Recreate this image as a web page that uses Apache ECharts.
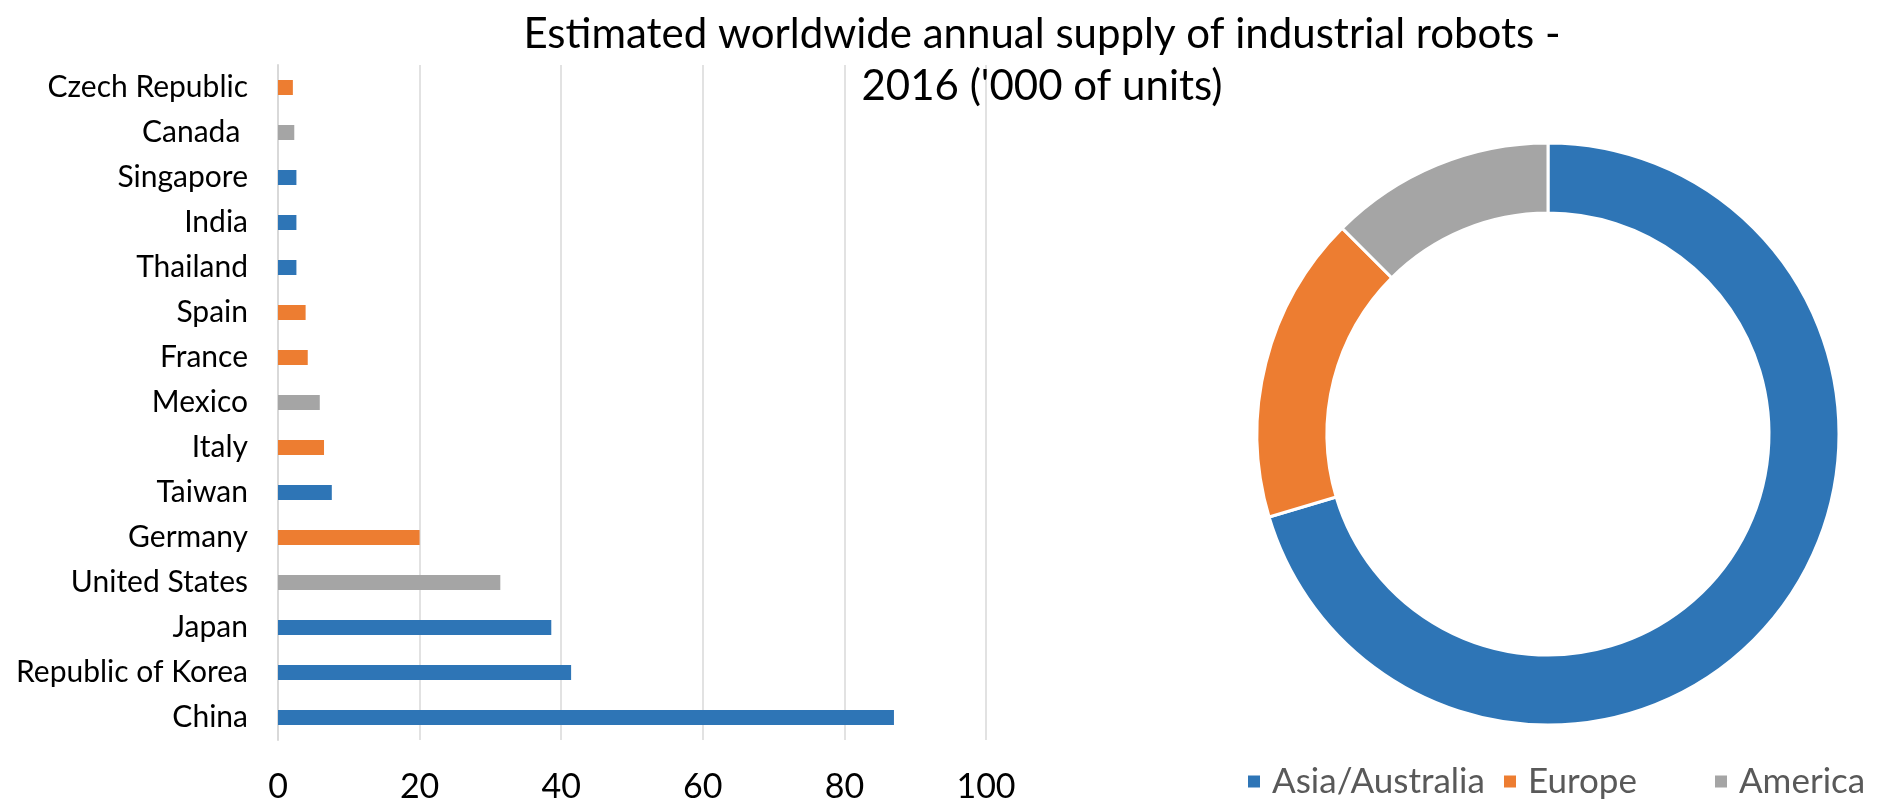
<!DOCTYPE html>
<html>
<head>
<meta charset="utf-8">
<script src="https://cdn.jsdelivr.net/npm/echarts@6/dist/echarts.min.js"></script>
<style>
html,body{margin:0;padding:0;background:#fff;}
#chart{width:1879px;height:805px;}
</style>
</head>
<body>
<div id="chart"></div>
<script>
// Categories (bottom to top)
const categories = ['China', 'Republic of Korea', 'Japan', 'United States', 'Germany', 'Taiwan', 'Italy', 'Mexico', 'France', 'Spain', 'Thailand', 'India', 'Singapore', 'Canada ', 'Czech Republic'];
const values = [87.0, 41.4, 38.6, 31.4, 20.0, 7.6, 6.5, 5.9, 4.2, 3.9, 2.6, 2.6, 2.6, 2.3, 2.1];
const regionOf = ['Asia/Australia', 'Asia/Australia', 'Asia/Australia', 'America', 'Europe', 'Asia/Australia', 'Europe', 'America', 'Europe', 'Europe', 'Asia/Australia', 'Asia/Australia', 'Asia/Australia', 'America', 'Europe'];
const regions = ['Asia/Australia', 'Europe', 'America'];
const regionShare = [70.4, 17.1, 12.5];
const xTicks = [0, 20, 40, 60, 80, 100];
const titleText = "Estimated worldwide annual supply of industrial robots -\n2016 ('000 of units)";

const regionColor = {'Asia/Australia': '#2E75B6', 'Europe': '#ED7D31', 'America': '#A5A5A5'};
const FONT = 'Lato';
const legendLefts = [1246, 1502, 1713];

const chart = echarts.init(document.getElementById('chart'));
chart.setOption({
  backgroundColor: '#ffffff',
  animation: false,
  title: {
    text: titleText,
    left: 1042,
    top: 8,
    textAlign: 'center',
    padding: 0,
    textStyle: {fontFamily: FONT, fontSize: 42, fontWeight: 'normal', color: '#000000', lineHeight: 52}
  },
  legend: regions.map((r, i) => ({
    left: legendLefts[i],
    top: 764,
    icon: 'rect',
    itemWidth: 14,
    itemHeight: 14,
    padding: 0,
    data: [r],
    textStyle: {fontFamily: FONT, fontSize: 35, color: '#595959', padding: [0, 0, 0, 6]}
  })),
  grid: {left: 278, top: 65, width: 708, height: 675, containLabel: false},
  xAxis: {
    type: 'value',
    min: xTicks[0],
    max: xTicks[xTicks.length - 1],
    interval: xTicks[1] - xTicks[0],
    axisLine: {show: false},
    axisTick: {show: false},
    splitLine: {show: true, lineStyle: {color: '#D9D9D9', width: 1.5}},
    axisLabel: {fontFamily: FONT, fontSize: 34, lineHeight: 34, color: '#000000', margin: 30}
  },
  yAxis: {
    type: 'category',
    data: categories,
    axisLine: {show: true, lineStyle: {color: '#D9D9D9', width: 2}},
    axisTick: {show: false},
    axisLabel: {fontFamily: FONT, fontSize: 30, color: '#000000', margin: 30}
  },
  series: [
    {
      type: 'bar',
      barWidth: 15,
      data: values.map((v, i) => ({value: v, itemStyle: {color: regionColor[regionOf[i]]}})),
      silent: true
    },
    {
      type: 'pie',
      center: [1548, 434],
      radius: [221, 291],
      startAngle: 90,
      clockwise: true,
      label: {show: false},
      labelLine: {show: false},
      itemStyle: {borderColor: '#ffffff', borderWidth: 3},
      data: regions.map((r, i) => ({name: r, value: regionShare[i], itemStyle: {color: regionColor[r]}})),
      silent: true
    }
  ]
});
</script>
</body>
</html>
